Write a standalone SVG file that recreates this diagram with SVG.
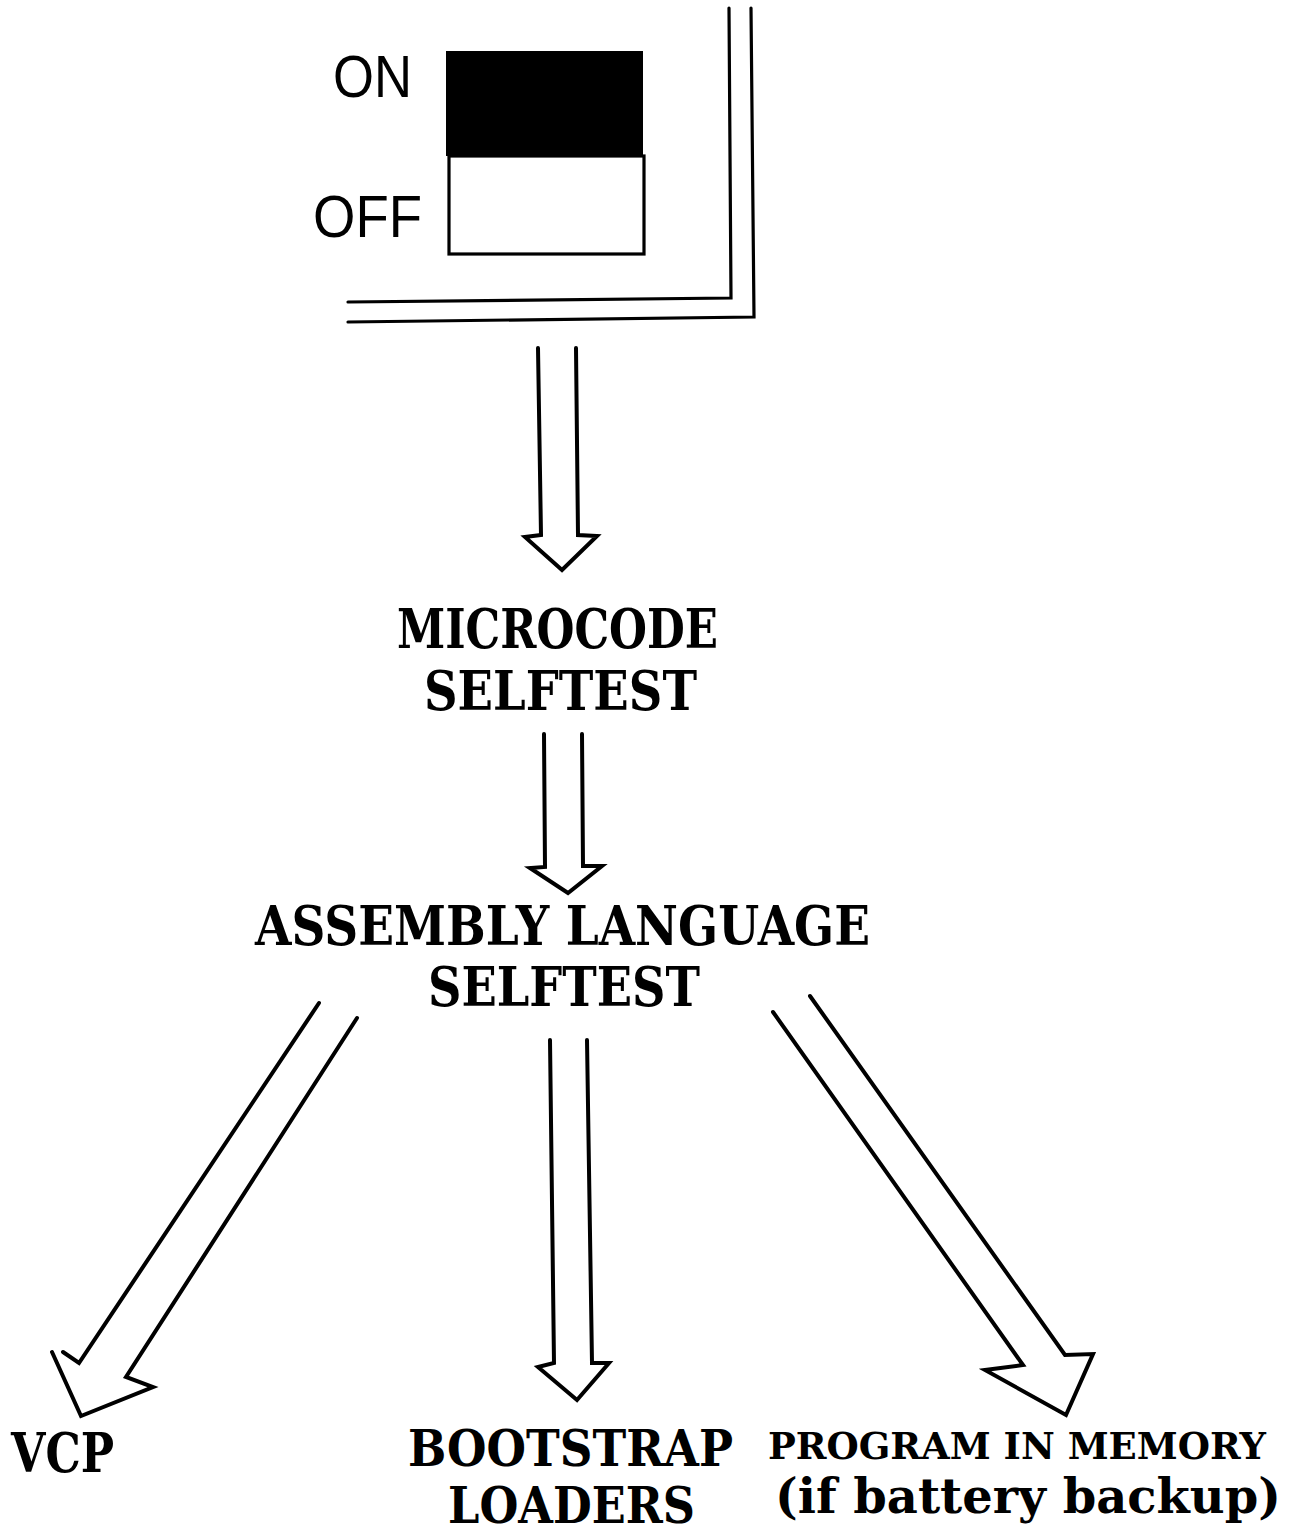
<svg xmlns="http://www.w3.org/2000/svg" width="1290" height="1535" viewBox="0 0 1290 1535">
  <style>
    .bg { fill: #ffffff; }
    .frame { fill: none; stroke: #000; stroke-width: 3.2; stroke-linecap: round; stroke-linejoin: miter; }
    .arrow { fill: none; stroke: #000; stroke-width: 4; stroke-linecap: round; stroke-linejoin: miter; }
    .sw-label { font-family: "Liberation Sans", "DejaVu Sans", sans-serif; font-size: 60px; fill: #000; }
    .label { font-family: "DejaVu Serif", "Liberation Serif", serif; font-weight: bold; font-size: 54px; fill: #000; }
    .label-md { font-size: 50px; }
    .label-lc { font-size: 48px; }
    .label-sm { font-size: 37px; }
  </style>

  <rect class="bg" x="0" y="0" width="1290" height="1535"/>

  <!-- power switch with its ON/OFF positions and the panel corner -->
  <g id="switch">
    <rect x="446" y="51" width="197" height="105" fill="#000"/>
    <rect x="449" y="156" width="195" height="98" fill="#fff" stroke="#000" stroke-width="3.2"/>
    <text class="sw-label" x="333" y="97" textLength="79" lengthAdjust="spacingAndGlyphs">ON</text>
    <text class="sw-label" x="313" y="237" textLength="109" lengthAdjust="spacingAndGlyphs">OFF</text>
    <polyline class="frame" points="729,8 731,298 348,302"/>
    <polyline class="frame" points="751,8 754,317 348,322"/>
  </g>

  <g id="microcode-selftest">
    <text class="label" x="397" y="648" textLength="321" lengthAdjust="spacingAndGlyphs">MICROCODE</text>
    <text class="label" x="424" y="710" textLength="273" lengthAdjust="spacingAndGlyphs">SELFTEST</text>
  </g>

  <g id="assembly-selftest">
    <text class="label" x="255" y="945" textLength="615" lengthAdjust="spacingAndGlyphs">ASSEMBLY LANGUAGE</text>
    <text class="label" x="428" y="1006" textLength="272" lengthAdjust="spacingAndGlyphs">SELFTEST</text>
  </g>

  <g id="vcp">
    <text class="label" x="11" y="1472" textLength="103" lengthAdjust="spacingAndGlyphs">VCP</text>
  </g>

  <g id="bootstrap-loaders">
    <text class="label label-md" x="408" y="1466" textLength="325" lengthAdjust="spacingAndGlyphs">BOOTSTRAP</text>
    <text class="label label-md" x="448" y="1523" textLength="247" lengthAdjust="spacingAndGlyphs">LOADERS</text>
  </g>

  <g id="program-in-memory">
    <text class="label label-sm" x="1266" y="1459" text-anchor="end">PROGRAM IN MEMORY</text>
    <text class="label label-lc" x="1281" y="1513" text-anchor="end">(if battery backup)</text>
  </g>

  <!-- hollow block arrows between the stages -->
  <g id="connectors">
    <path class="arrow" d="M538,348 L541,535 L525,537 L562,570 L597,536 L578,535 L576,348"/>
    <path class="arrow" d="M544,734 L545,867 L530,868 L568,893 L602,866 L583,866 L582,734"/>
    <path class="arrow" d="M550,1040 L554,1363 L538,1367 L577,1400 L609,1363 L592,1363 L587,1040"/>
    <path class="arrow" d="M319,1003 L79,1363 L63,1352"/>
    <path class="arrow" d="M52,1352 L81,1416 L153,1387 L126,1377 L357,1018"/>
    <path class="arrow" d="M773,1012 L1023,1365 L985,1370 L1066,1415 L1093,1354 L1065,1355 L810,996"/>
  </g>
</svg>
